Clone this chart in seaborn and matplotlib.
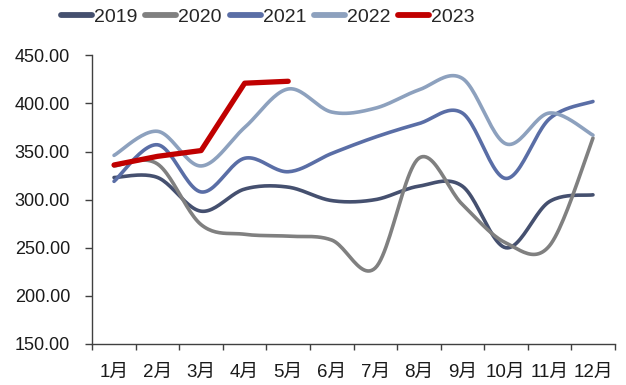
import numpy as np
import pandas as pd
import matplotlib
matplotlib.use("Agg")
import matplotlib.pyplot as plt
import seaborn as sns

months = ["1月", "2月", "3月", "4月", "5月", "6月", "7月", "8月", "9月", "10月", "11月", "12月"]
v2019 = [323, 323, 288, 311, 313, 299, 300, 314, 314, 250, 298, 305]
v2020 = [335, 337, 274, 264, 262, 258, 229, 343, 295, 255, 252, 364]
v2021 = [319, 357, 308, 343, 329, 348, 365, 379, 390, 322, 384, 402]
v2022 = [346, 371, 335, 375, 415, 391, 395, 414, 426, 358, 390, 367]
v2023 = [336, 345, 351, 421, 423]

series = [
    ("2019", v2019, "#45506F", 2.6, True),
    ("2020", v2020, "#808080", 2.6, True),
    ("2021", v2021, "#5A6EA6", 2.6, True),
    ("2022", v2022, "#8DA1BE", 2.6, True),
    ("2023", v2023, "#C00000", 3.8, False),
]


def smooth(y, n=24):
    """Bezier smoothing through every point (Catmull-Rom style control points)."""
    y = np.asarray(y, dtype=float)
    x = np.arange(len(y), dtype=float)
    pts = np.column_stack([x, y])
    out = [pts[0]]
    for i in range(len(pts) - 1):
        p0 = pts[i - 1] if i > 0 else pts[i]
        p1 = pts[i]
        p2 = pts[i + 1]
        p3 = pts[i + 2] if i + 2 < len(pts) else pts[i + 1]
        c1 = p1 + (p2 - p0) / 6.0
        c2 = p2 - (p3 - p1) / 6.0
        t = np.linspace(0, 1, n + 1)[1:, None]
        seg = ((1 - t) ** 3) * p1 + 3 * ((1 - t) ** 2) * t * c1 + 3 * (1 - t) * t ** 2 * c2 + t ** 3 * p2
        out.extend(seg)
    out = np.array(out)
    return out[:, 0], out[:, 1]


sns.set_theme(style="white")
plt.rcParams["font.family"] = ["Liberation Sans", "Noto Sans CJK SC", "DejaVu Sans"]

fig = plt.figure(figsize=(6.26, 3.85), dpi=100)
ax = fig.add_axes([0.1474, 0.1065, 0.982 - 0.1474, 0.8564 - 0.1065])

for name, vals, color, lw, curved in series:
    if curved:
        xs, ys = smooth(vals)
    else:
        xs, ys = np.arange(len(vals), dtype=float), np.asarray(vals, dtype=float)
    df = pd.DataFrame({"x": xs, "y": ys})
    sns.lineplot(data=df, x="x", y="y", ax=ax, color=color, linewidth=lw,
                 sort=False, estimator=None, label=name,
                 solid_capstyle="round", solid_joinstyle="round")

ax.set_xlim(-0.5, len(months) - 0.5)
ax.set_ylim(150, 450)
ax.set_yticks(np.arange(150, 451, 50))
ax.set_yticklabels([f"{v:.2f}" for v in np.arange(150, 451, 50)], fontsize=13, color="#1a1a1a")

ax.set_xticks(np.arange(-0.5, len(months), 1.0))
ax.set_xticklabels([])
ax.set_xticks(np.arange(len(months)), minor=True)
ax.set_xticklabels(months, minor=True, fontsize=13.5, color="#1a1a1a")
ax.tick_params(axis="x", which="major", direction="out", length=4, width=1, color="#404040", bottom=True)
ax.tick_params(axis="x", which="minor", length=0, pad=14)
ax.tick_params(axis="y", direction="out", length=5, width=1, color="#404040", left=True, pad=11)

ax.set_xlabel("")
ax.set_ylabel("")
for side in ["top", "right"]:
    ax.spines[side].set_visible(False)
for side in ["left", "bottom"]:
    ax.spines[side].set_color("#404040")
    ax.spines[side].set_linewidth(1)
ax.grid(False)

handles, labels = ax.get_legend_handles_labels()
ax.get_legend().remove()
leg = fig.legend(handles, labels, loc="center", bbox_to_anchor=(0.428, 0.956), ncol=5,
                 frameon=False, prop={"family": ["Liberation Sans Narrow", "Liberation Sans"], "size": 14},
                 handlelength=1.6, handletextpad=0.1, columnspacing=0.4)
for line in leg.get_lines():
    line.set_linewidth(4.2)
    line.set_solid_capstyle("round")

fig.savefig("out.png", dpi=100)
